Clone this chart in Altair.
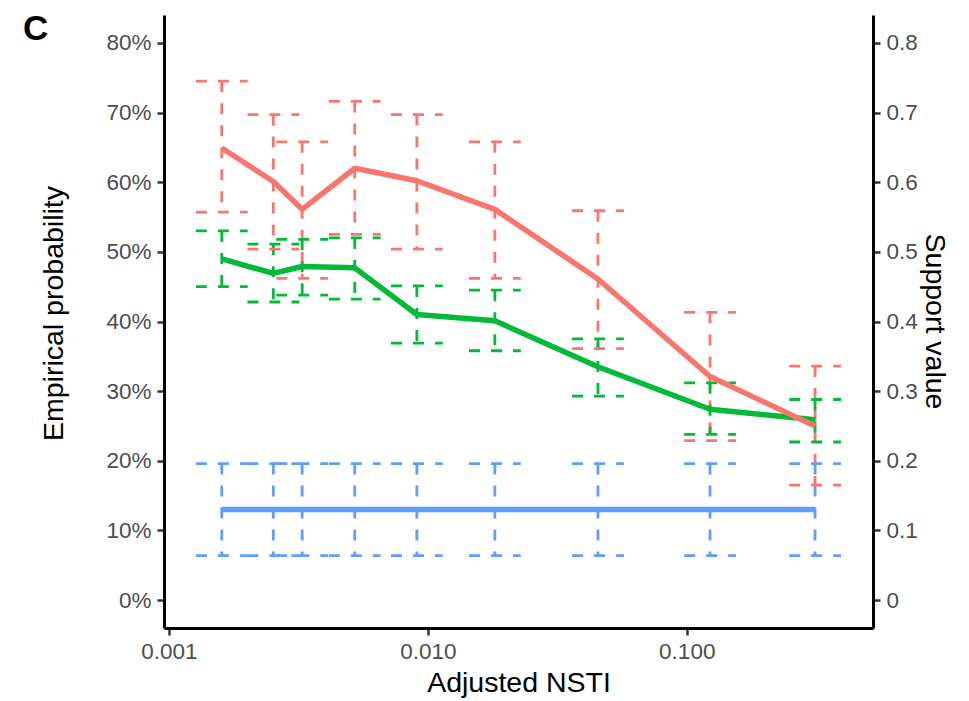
import altair as alt
import pandas as pd

# ---- data ----
series_names = ["Group 1", "Group 2", "Group 3"]
series_colors = ["#F8766D", "#00BA38", "#619CFF"]

nsti = [0.00160, 0.00253, 0.00327, 0.00522, 0.00907, 0.01815, 0.0454, 0.123, 0.313]

red_mean = [0.649, 0.601, 0.561, 0.620, 0.602, 0.561, 0.461, 0.321, 0.250]
red_lo = [0.557, 0.504, 0.462, 0.525, 0.504, 0.462, 0.361, 0.229, 0.165]
red_hi = [0.745, 0.697, 0.658, 0.716, 0.697, 0.658, 0.559, 0.413, 0.336]

green_mean = [0.490, 0.469, 0.479, 0.477, 0.410, 0.401, 0.335, 0.274, 0.259]
green_lo = [0.450, 0.428, 0.438, 0.432, 0.369, 0.358, 0.293, 0.238, 0.227]
green_hi = [0.530, 0.511, 0.518, 0.520, 0.451, 0.445, 0.375, 0.312, 0.288]

blue_mean = [0.130, 0.130, 0.130, 0.130, 0.130, 0.130, 0.130, 0.130, 0.130]
blue_lo = [0.064, 0.064, 0.064, 0.064, 0.064, 0.064, 0.064, 0.064, 0.064]
blue_hi = [0.196, 0.196, 0.196, 0.196, 0.196, 0.196, 0.196, 0.196, 0.196]

y_ticks = [0, 0.1, 0.2, 0.3, 0.4, 0.5, 0.6, 0.7, 0.8]
x_ticks = [0.001, 0.01, 0.1]

rows = []
for name, m, lo, hi in zip(series_names,
                           [red_mean, green_mean, blue_mean],
                           [red_lo, green_lo, blue_lo],
                           [red_hi, green_hi, blue_hi]):
    for xv, mv, lv, hv in zip(nsti, m, lo, hi):
        rows.append({"series": name, "x": xv, "mean": mv, "lo": lv, "hi": hv})
df = pd.DataFrame(rows)

FONT = "Liberation Sans"
LABEL_COLOR = "#4D4D4D"
TICK_COLOR = "#333333"
LABEL_SIZE = 22.5
TITLE_SIZE = 28.5

x_scale = alt.Scale(type="log", domain=[0.000957, 0.524], nice=False)
y_scale = alt.Scale(domain=[-0.04, 0.84], nice=False, zero=False)

x_axis = alt.Axis(
    values=x_ticks, format=".3f", title="Adjusted NSTI", grid=False,
    labelFont=FONT, labelFontSize=LABEL_SIZE, labelColor=LABEL_COLOR,
    labelBaseline="alphabetic", labelPadding=23,
    tickSize=7, tickWidth=2.5, tickColor=TICK_COLOR,
    domainColor="black", domainWidth=3,
    titleFont=FONT, titleFontSize=TITLE_SIZE, titleFontWeight="normal", titleColor="black",
    titleBaseline="alphabetic", titleY=63,
)

left_axis = alt.Axis(
    orient="left", values=y_ticks, format=".0%", title="Empirical probability", grid=False,
    labelFont=FONT, labelFontSize=LABEL_SIZE, labelColor=LABEL_COLOR, labelPadding=6,
    tickSize=7, tickWidth=2.5, tickColor=TICK_COLOR,
    domainColor="black", domainWidth=3,
    titleFont=FONT, titleFontSize=TITLE_SIZE, titleFontWeight="normal", titleColor="black",
    titleBaseline="alphabetic", titleX=-102, titleY=298, titleAngle=270,
)

right_axis = alt.Axis(
    orient="right", values=y_ticks, format="~g", title="Support value", grid=False,
    labelFont=FONT, labelFontSize=LABEL_SIZE, labelColor=LABEL_COLOR, labelPadding=6,
    tickSize=7, tickWidth=2.5, tickColor=TICK_COLOR,
    domainColor="black", domainWidth=3,
    titleFont=FONT, titleFontSize=TITLE_SIZE, titleFontWeight="normal", titleColor="black",
    titleBaseline="alphabetic", titleX=52, titleY=306, titleAngle=90,
)

color = alt.Color("series:N", scale=alt.Scale(domain=series_names, range=series_colors), legend=None)


def X(field):
    return alt.X(f"{field}:Q", scale=x_scale, axis=x_axis)


base = alt.Chart(df)
dash = dict(strokeDash=[11, 11], strokeWidth=2.8)

vbars = base.mark_rule(**dash).encode(
    x=X("x"),
    y=alt.Y("hi:Q", scale=y_scale, axis=left_axis),
    y2="lo:Q",
    color=color,
)

caps = base.transform_calculate(
    xl="datum.x * pow(10, -0.1)", xr="datum.x * pow(10, 0.1)"
)
cap_top = caps.mark_rule(**dash).encode(
    x=X("xl"), x2="xr:Q", y=alt.Y("hi:Q", scale=y_scale, axis=None), color=color
)
cap_bot = caps.mark_rule(**dash).encode(
    x=X("xl"), x2="xr:Q", y=alt.Y("lo:Q", scale=y_scale, axis=None), color=color
)

line_layers = []
for name in ["Group 3", "Group 2", "Group 1"]:
    ax = right_axis if name == "Group 1" else None
    line_layers.append(
        base.transform_filter(alt.datum.series == name)
        .mark_line(strokeWidth=5.5, strokeJoin="round")
        .encode(
            x=X("x"),
            y=alt.Y("mean:Q", scale=y_scale, axis=ax),
            color=color,
        )
    )

panel_label = alt.Chart(pd.DataFrame({"t": ["C"]})).mark_text(
    font=FONT, fontSize=35, fontWeight="bold", color="black",
    align="left", baseline="alphabetic",
).encode(text="t:N", x=alt.value(-141), y=alt.value(25))

chart = (
    alt.layer(vbars, cap_top, cap_bot, *line_layers, panel_label)
    .resolve_scale(y="shared", x="shared")
    .resolve_axis(y="independent")
    .properties(
        width=709, height=613,
        autosize=alt.AutoSizeParams(type="none"),
        padding={"left": 164, "top": 15, "right": 96, "bottom": 73},
        background="white",
    )
    .configure_view(stroke=None)
)

chart.save("out.html", embed_options={"renderer": "svg", "actions": False})
